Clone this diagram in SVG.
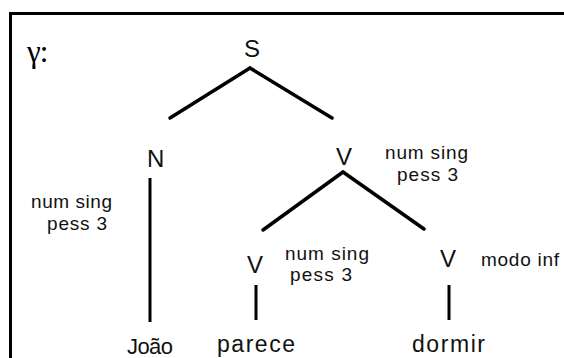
<svg xmlns="http://www.w3.org/2000/svg" width="564" height="358" viewBox="0 0 564 358">
  <style>
    .frame { stroke: #000; stroke-width: 3; fill: none; }
    .edge { stroke: #000; stroke-width: 3.5; stroke-linecap: round; fill: none; }
    .stem { stroke: #000; stroke-width: 3; fill: none; }
    .cat { font-family: "Liberation Sans", Arial, sans-serif; font-size: 24px; fill: #111; }
    .word { font-family: "Liberation Sans", Arial, sans-serif; font-size: 23px; fill: #111; }
    .feat { font-family: "Liberation Sans", Arial, sans-serif; font-size: 19px; fill: #111; }
    .sym { font-family: "Liberation Serif", "Times New Roman", serif; font-size: 31px; fill: #000; }
  </style>
  <rect width="564" height="358" fill="#fff"/>

  <!-- frame: top and left rules -->
  <g id="frame">
    <line class="frame" x1="9" y1="13.5" x2="564" y2="13.5"/>
    <line class="frame" x1="10.5" y1="12" x2="10.5" y2="358"/>
  </g>

  <text id="label-gamma" class="sym" x="27" y="62" letter-spacing="-1">γ:</text>

  <!-- tree branches -->
  <g id="connectors">
    <line class="edge" x1="250" y1="68" x2="170" y2="118"/>
    <line class="edge" x1="250" y1="68" x2="332" y2="118"/>
    <line class="edge" x1="343" y1="172" x2="263" y2="230"/>
    <line class="edge" x1="343" y1="172" x2="424" y2="229"/>
    <line class="stem" x1="150" y1="178" x2="150" y2="322"/>
    <line class="stem" x1="256" y1="285" x2="256" y2="320"/>
    <line class="stem" x1="449" y1="285" x2="449" y2="320"/>
  </g>

  <g id="node-S">
    <text class="cat" x="244" y="57">S</text>
  </g>

  <g id="node-N">
    <text class="cat" x="147" y="167">N</text>
    <text class="feat" x="31" y="208" textLength="81" lengthAdjust="spacing">num sing</text>
    <text class="feat" x="47" y="230" textLength="60" lengthAdjust="spacing">pess 3</text>
  </g>

  <g id="node-V">
    <text class="cat" x="336" y="165">V</text>
    <text class="feat" x="385" y="159" textLength="83" lengthAdjust="spacing">num sing</text>
    <text class="feat" x="397" y="181" textLength="61" lengthAdjust="spacing">pess 3</text>
  </g>

  <g id="node-V-parece">
    <text class="cat" x="247" y="273">V</text>
    <text class="feat" x="285" y="260" textLength="84" lengthAdjust="spacing">num sing</text>
    <text class="feat" x="290" y="281" textLength="62" lengthAdjust="spacing">pess 3</text>
  </g>

  <g id="node-V-dormir">
    <text class="cat" x="440" y="267">V</text>
    <text class="feat" x="481" y="266" textLength="78" lengthAdjust="spacing">modo inf</text>
  </g>

  <g id="word-joao">
    <text class="word" x="127" y="354" textLength="46" lengthAdjust="spacing" style="font-size:22px">João</text>
  </g>
  <g id="word-parece">
    <text class="word" x="217" y="352" textLength="78" lengthAdjust="spacing">parece</text>
  </g>
  <g id="word-dormir">
    <text class="word" x="412" y="352" textLength="73" lengthAdjust="spacing">dormir</text>
  </g>
</svg>
